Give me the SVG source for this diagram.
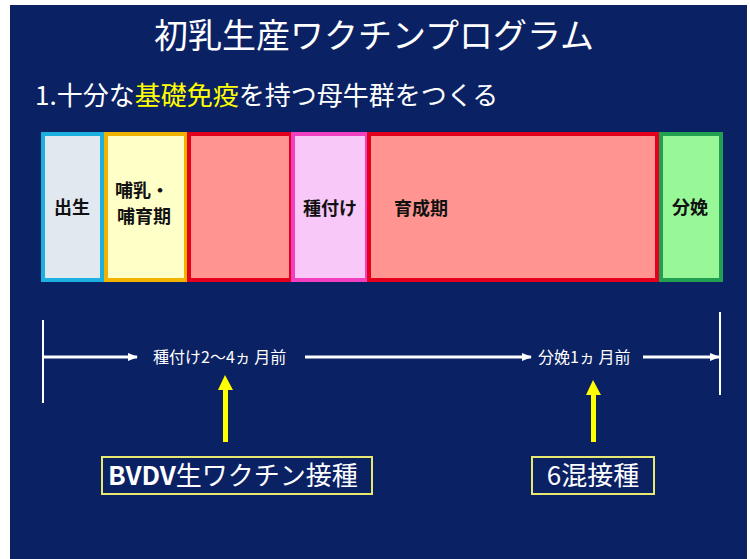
<svg xmlns="http://www.w3.org/2000/svg" width="750" height="559" viewBox="0 0 750 559">
<style>
.jp{font-family:"Noto Sans CJK JP","Noto Sans",sans-serif;}
.lbl{font-family:"Noto Sans CJK JP",sans-serif;font-size:18px;font-weight:bold;fill:#111;text-anchor:middle;}
.tl{font-family:"Noto Sans CJK JP",sans-serif;font-size:16px;fill:#fff;}
.wl{stroke:#fff;stroke-width:3;fill:none;}
.vb{stroke:#fff;stroke-width:2;}
.ya{fill:#ffff00;}
.vbox{fill:none;stroke:#e8e870;stroke-width:2;}
.vt{font-family:"Noto Sans CJK JP",sans-serif;font-size:26px;fill:#fff;}
</style>
<defs>
<marker id="ah" markerWidth="10" markerHeight="10" refX="9" refY="5" orient="auto" markerUnits="userSpaceOnUse">
<path d="M0,1 L10,5 L0,9 Z" fill="#fff"/>
</marker>
</defs>
<rect x="0" y="0" width="750" height="559" fill="#fff"/>
<rect x="10" y="5" width="737" height="554" fill="#0a2264"/>
<text class="jp" x="374" y="48" font-size="34" fill="#fff" text-anchor="middle">初乳生産ワクチンプログラム</text>
<text class="jp" x="35" y="105" font-size="26" fill="#fff">1.十分な<tspan fill="#ffff00">基礎免疫</tspan>を持つ母牛群をつくる</text>

<g id="n-birth"><rect x="43" y="134" width="59" height="146" fill="#e2e8f0" stroke="#1cb0e0" stroke-width="4"/><text class="lbl" x="72" y="214">出生</text></g>
<g id="n-nursing"><rect x="106" y="134" width="80" height="146" fill="#ffffc8" stroke="#f0b400" stroke-width="4"/><text class="lbl" x="142" y="197" font-size="17">哺乳・</text><text class="lbl" x="144" y="223" font-size="17">哺育期</text></g>
<g id="n-red1"><rect x="189" y="134" width="102" height="146" fill="#ff9490" stroke="#e4001c" stroke-width="4"/></g>
<g id="n-breeding"><rect x="293" y="134" width="74" height="146" fill="#f8c8f8" stroke="#f040c0" stroke-width="4"/><text class="lbl" x="330" y="215">種付け</text></g>
<g id="n-growth"><rect x="369" y="134" width="288" height="146" fill="#ff9490" stroke="#e4001c" stroke-width="4"/><text class="lbl" x="421" y="215">育成期</text></g>
<g id="n-calving"><rect x="661" y="134" width="60" height="146" fill="#98f898" stroke="#20a050" stroke-width="4"/><text class="lbl" x="690" y="214">分娩</text></g>

<g id="connectors">
<line class="vb" x1="43" y1="320" x2="43" y2="403"/>
<line class="wl" x1="43" y1="357" x2="137" y2="357" marker-end="url(#ah)"/>
<line class="wl" x1="305" y1="357" x2="531" y2="357" marker-end="url(#ah)"/>
<line class="wl" x1="643" y1="357" x2="719" y2="357" marker-end="url(#ah)"/>
<line class="vb" x1="720" y1="312" x2="720" y2="395"/>
<polygon class="ya" points="225,375 233,390 228,390 228,442 223,442 223,390 218,390"/>
<polygon class="ya" points="593,380 601,395 596,395 596,442 591,442 591,395 586,395"/>
</g>
<text class="tl" x="153" y="363">種付け2～4ヵ 月前</text>
<text class="tl" x="538" y="363">分娩1ヵ 月前</text>

<g id="n-bvdv"><rect class="vbox" x="102" y="457" width="270" height="37"/><text class="vt" x="108" y="485"><tspan font-weight="bold">BVDV</tspan>生ワクチン接種</text></g>
<g id="n-6mix"><rect class="vbox" x="532" y="457" width="122" height="37"/><text class="vt" x="593" y="485" text-anchor="middle">6混接種</text></g>
</svg>
